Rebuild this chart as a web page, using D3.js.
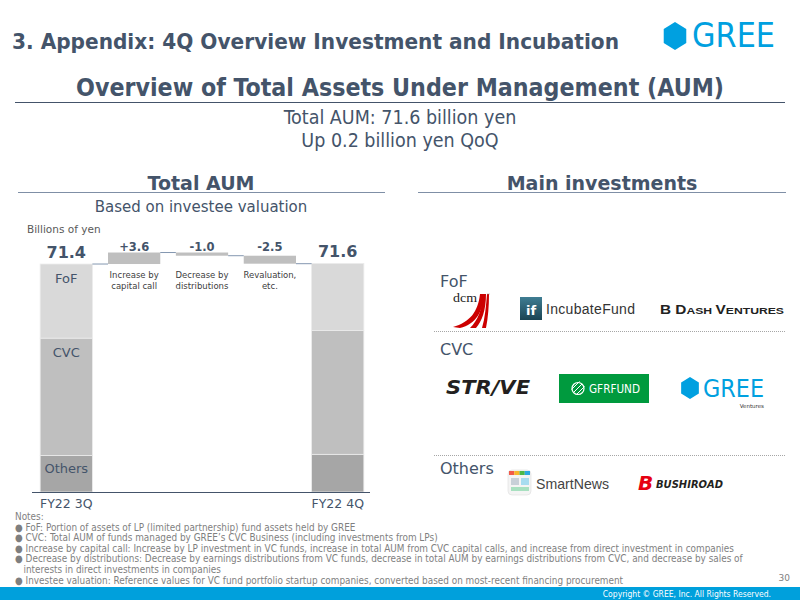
<!DOCTYPE html>
<html>
<head>
<meta charset="utf-8">
<script src="https://cdn.jsdelivr.net/npm/d3@7"></script>
<style>
  body { margin: 0; background: #fff; }
  text { font-family: "DejaVu Sans", Verdana, sans-serif; }
</style>
</head>
<body>
<svg id="chart" width="800" height="600"></svg>
<script>
// chart data
const categories = ["FY22 3Q", "chg1", "chg2", "chg3", "FY22 4Q"]
const segmentNames = ["Others", "CVC", "FoF"]
const q3Values = [11.4, 36.8, 23.2]
const q4Values = [11.8, 38.8, 21.0]
const totals = [71.4, 71.6]
const changes = [3.6, -1.0, -2.5]
const changeLabels = ["+3.6", "-1.0", "-2.5"]
const changeTexts = [["Increase by", "capital call"], ["Decrease by", "distributions"], ["Revaluation,", "etc."]]
const notes = [
  "Notes:",
  "\u25CF FoF: Portion of assets of LP (limited partnership) fund assets held by GREE",
  "\u25CF CVC: Total AUM of funds managed by GREE\u2019s CVC Business (including investments from LPs)",
  "\u25CF Increase by capital call: Increase by LP investment in VC funds, increase in total AUM from CVC capital calls, and increase from direct investment in companies",
  "\u25CF Decrease by distributions: Decrease by earnings distributions from VC funds, decrease in total AUM by earnings distributions from CVC, and decrease by sales of",
  "   interests in direct investments in companies",
  "\u25CF Investee valuation: Reference values for VC fund portfolio startup companies, converted based on most-recent financing procurement"
]

const ink = "#44546a"
const segColors = { FoF: "#d9d9d9", CVC: "#bfbfbf", Others: "#a6a6a6" }

const svg = d3.select("#chart")

// ---- header ----
svg.append("text").attr("x", 12).attr("y", 49)
  .style("font-family", "DejaVu Sans Condensed").style("font-weight", "bold")
  .style("font-size", "21px").attr("fill", ink)
  .attr("textLength", 607).attr("lengthAdjust", "spacingAndGlyphs")
  .text("3. Appendix: 4Q Overview Investment and Incubation")

// GREE logo
const hex = (cx, cy, r) => d3.range(6).map(i => {
  const a = Math.PI / 3 * i - Math.PI / 2
  return [cx + r * Math.cos(a) * 0.93, cy + r * Math.sin(a)]
})
svg.append("polygon").attr("points", hex(675, 36, 14).join(" ")).attr("fill", "#00a0e0")
svg.append("text").attr("x", 692).attr("y", 47)
  .style("font-family", "DejaVu Sans").style("font-size", "33px").attr("fill", "#00a0e0")
  .attr("textLength", 83).attr("lengthAdjust", "spacingAndGlyphs").text("GREE")

svg.append("text").attr("x", 400).attr("y", 96).attr("text-anchor", "middle")
  .style("font-family", "DejaVu Sans Condensed").style("font-weight", "bold")
  .style("font-size", "24px").attr("fill", ink)
  .attr("textLength", 648).attr("lengthAdjust", "spacingAndGlyphs")
  .text("Overview of Total Assets Under Management (AUM)")
svg.append("line").attr("x1", 15).attr("x2", 785).attr("y1", 102.5).attr("y2", 102.5)
  .attr("stroke", ink).attr("stroke-width", 1)

svg.append("text").attr("x", 400).attr("y", 124).attr("text-anchor", "middle")
  .style("font-family", "DejaVu Sans Condensed").style("font-size", "19.5px").attr("fill", ink)
  .text("Total AUM: 71.6 billion yen")
svg.append("text").attr("x", 400).attr("y", 147).attr("text-anchor", "middle")
  .style("font-family", "DejaVu Sans Condensed").style("font-size", "19.5px").attr("fill", ink)
  .text("Up 0.2 billion yen QoQ")

// section headers
const sectionHead = (cx, x1, x2, label) => {
  svg.append("text").attr("x", cx).attr("y", 190).attr("text-anchor", "middle")
    .style("font-weight", "bold").style("font-size", "19px").attr("fill", ink).text(label)
  svg.append("line").attr("x1", x1).attr("x2", x2).attr("y1", 192.5).attr("y2", 192.5)
    .attr("stroke", "#7f8fa6").attr("stroke-width", 1)
}
sectionHead(201, 18, 385, "Total AUM")
sectionHead(602, 418, 786, "Main investments")

svg.append("text").attr("x", 201).attr("y", 212).attr("text-anchor", "middle")
  .style("font-size", "15px").attr("fill", ink).text("Based on investee valuation")
svg.append("text").attr("x", 27).attr("y", 233)
  .style("font-size", "10.5px").attr("fill", "#595959").text("Billions of yen")

// ---- waterfall chart ----
const x = d3.scaleBand().domain(categories).range([32, 372]).paddingInner(0.23).paddingOuter(0.12)
const y = d3.scaleLinear().domain([0, 80]).range([492, 492 - 80 * 3.193])

const g = svg.append("g")

const stackBar = (cat, values) => {
  let base = 0
  values.forEach((v, i) => {
    g.append("rect").attr("x", x(cat)).attr("width", x.bandwidth())
      .attr("y", y(base + v)).attr("height", y(base) - y(base + v))
      .attr("fill", segColors[segmentNames[i]]).attr("stroke", "#ececec").attr("stroke-width", 0.8)
    base += v
  })
}
stackBar(categories[0], q3Values)
stackBar(categories[4], q4Values)

// floating bars + connectors
let running = totals[0]
const levels = [running]
changes.forEach((c, i) => {
  const cat = categories[i + 1]
  const lo = Math.min(running, running + c), hi = Math.max(running, running + c)
  g.append("rect").attr("x", x(cat)).attr("width", x.bandwidth())
    .attr("y", y(hi)).attr("height", y(lo) - y(hi)).attr("fill", "#bfbfbf")
  running += c
  levels.push(running)
})
levels.forEach((lv, i) => {
  g.append("line").attr("x1", x(categories[i]) + x.bandwidth()).attr("x2", x(categories[i + 1]))
    .attr("y1", y(lv)).attr("y2", y(lv)).attr("stroke", "#8497b0").attr("stroke-width", 1)
})

// value labels
;[0, 4].forEach((ci, k) => {
  g.append("text").attr("x", x(categories[ci]) + x.bandwidth() / 2).attr("y", y(totals[k]) - 6)
    .attr("text-anchor", "middle").style("font-weight", "bold").style("font-size", "16px")
    .attr("fill", ink).text(totals[k].toFixed(1))
})
changeLabels.forEach((lab, i) => {
  const cx = x(categories[i + 1]) + x.bandwidth() / 2
  g.append("text").attr("x", cx).attr("y", 251).attr("text-anchor", "middle")
    .style("font-weight", "bold").style("font-size", "11.5px").attr("fill", ink).text(lab)
  changeTexts[i].forEach((t, j) => {
    g.append("text").attr("x", cx).attr("y", 278 + j * 11).attr("text-anchor", "middle")
      .style("font-size", "8.5px").attr("fill", "#404040").text(t)
  })
})

// segment labels inside 3Q bar
const segLabelY = { FoF: 283, CVC: 357, Others: 473 }
segmentNames.forEach(s => {
  g.append("text").attr("x", x(categories[0]) + x.bandwidth() / 2).attr("y", segLabelY[s])
    .attr("text-anchor", "middle").style("font-size", "13px").attr("fill", ink).text(s)
})

// x axis
const axis = g.append("g").attr("transform", "translate(0," + y(0) + ")")
  .call(d3.axisBottom(x).tickSize(0).tickFormat(d => d.startsWith("FY") ? d : ""))
axis.select(".domain").attr("stroke", ink).attr("d", "M32,0.5H370")
axis.selectAll("text").style("font-size", "12.5px").attr("fill", ink).attr("dy", "1.05em")
  .style("font-family", "DejaVu Sans")

// ---- main investments ----
const rs = svg.append("g")
const groupLabel = (yy, t) => rs.append("text").attr("x", 440).attr("y", yy)
  .style("font-size", "16px").attr("fill", ink).text(t)
groupLabel(287, "FoF")
groupLabel(355, "CVC")
groupLabel(474, "Others")
;[331.5, 455.5].forEach(yy => rs.append("line").attr("x1", 434).attr("x2", 786)
  .attr("y1", yy).attr("y2", yy).attr("stroke", "#a6a6a6").attr("stroke-dasharray", "1,1"))

// dcm
rs.append("text").attr("x", 453).attr("y", 302).style("font-family", "Liberation Serif")
  .style("font-size", "13px").attr("fill", "#222")
  .attr("textLength", 24).attr("lengthAdjust", "spacingAndGlyphs").text("dcm")
rs.append("path").attr("d", "M453,327 C470,322 478,312 480,294 L484,294 C483,312 476,324 460,328 Z").attr("fill", "#c00")
rs.append("path").attr("d", "M470,328 C478,320 482,310 483,294 L486,294 C486,310 482,321 476,328 Z").attr("fill", "#c00")
rs.append("path").attr("d", "M482,328 C485,318 486,306 487,294 L489,294 C489,306 488,318 486,328 Z").attr("fill", "#c00")
rs.append("line").attr("x1", 487).attr("x2", 490).attr("y1", 294).attr("y2", 294).attr("stroke", "#999").attr("stroke-width", 0.5)

// IncubateFund
const ifGrad = svg.append("defs").append("linearGradient").attr("id", "ifg").attr("x1", 0).attr("y1", 0).attr("x2", 0).attr("y2", 1)
ifGrad.append("stop").attr("offset", "0%").attr("stop-color", "#3f7d93")
ifGrad.append("stop").attr("offset", "100%").attr("stop-color", "#1b4453")
rs.append("rect").attr("x", 520).attr("y", 297).attr("width", 22).attr("height", 23).attr("fill", "url(#ifg)")
rs.append("text").attr("x", 531).attr("y", 315).attr("text-anchor", "middle").style("font-weight", "bold")
  .style("font-size", "13px").attr("fill", "#fff").text("if")
rs.append("text").attr("x", 546).attr("y", 314).style("font-family", "Liberation Sans")
  .style("font-size", "14px").attr("fill", "#333").attr("textLength", 89).text("IncubateFund")

// B DASH VENTURES
const bd = rs.append("text").attr("x", 660).attr("y", 314).style("font-family", "Liberation Sans")
  .style("font-weight", "bold").attr("fill", "#222").attr("textLength", 124).attr("lengthAdjust", "spacingAndGlyphs")
;[["B ", 12], ["D", 12], ["ASH ", 9.5], ["V", 12], ["ENTURES", 9.5]].forEach(([t, s]) =>
  bd.append("tspan").style("font-size", s + "px").text(t))

// STRIVE
rs.append("text").attr("x", 446).attr("y", 394).style("font-family", "DejaVu Sans")
  .style("font-weight", "bold").style("font-style", "italic").style("font-size", "19px")
  .attr("fill", "#231f20").attr("textLength", 84).attr("lengthAdjust", "spacingAndGlyphs").text("STR/VE")

// GFRFUND
rs.append("rect").attr("x", 559).attr("y", 374).attr("width", 90).attr("height", 29).attr("fill", "#009a3e")
rs.append("circle").attr("cx", 578).attr("cy", 388.5).attr("r", 6).attr("fill", "none").attr("stroke", "#fff").attr("stroke-width", 1.2)
;[-2.5, 0, 2.5].forEach(o => rs.append("line").attr("x1", 574 + o).attr("y1", 392 + o).attr("x2", 582 + o).attr("y2", 384 + o)
  .attr("stroke", "#fff").attr("stroke-width", 1))
rs.append("text").attr("x", 589).attr("y", 393).style("font-family", "DejaVu Sans")
  .style("font-size", "11.5px").attr("fill", "#fff").attr("textLength", 51).attr("lengthAdjust", "spacingAndGlyphs").text("GFRFUND")

// GREE Ventures
rs.append("polygon").attr("points", hex(690, 388, 11).join(" ")).attr("fill", "#00a0e0")
rs.append("text").attr("x", 703).attr("y", 397).style("font-family", "DejaVu Sans")
  .style("font-size", "24px").attr("fill", "#00a0e0").attr("textLength", 61).attr("lengthAdjust", "spacingAndGlyphs").text("GREE")
rs.append("text").attr("x", 764).attr("y", 408).attr("text-anchor", "end")
  .style("font-size", "5.5px").attr("fill", "#333").text("Ventures")

// SmartNews
rs.append("rect").attr("x", 508).attr("y", 470).attr("width", 23).attr("height", 25).attr("rx", 4)
  .attr("fill", "#f4f4f4").attr("stroke", "#ddd").attr("stroke-width", 0.6)
;["#f15a4a", "#f7b52c", "#4cb848", "#2aa9e0"].forEach((c, i) => rs.append("rect")
  .attr("x", 509 + i * 5.25).attr("y", 471).attr("width", 5.25).attr("height", 4).attr("fill", c))
rs.append("rect").attr("x", 511).attr("y", 478).attr("width", 8).attr("height", 7).attr("fill", "#c8d0d8")
rs.append("rect").attr("x", 521).attr("y", 478).attr("width", 8).attr("height", 7).attr("fill", "#a8dcf0")
rs.append("rect").attr("x", 511).attr("y", 487).attr("width", 18).attr("height", 4).attr("fill", "#a8e0c0")
rs.append("text").attr("x", 536).attr("y", 489).style("font-family", "Liberation Sans")
  .style("font-size", "15px").attr("fill", "#444").attr("textLength", 73).attr("lengthAdjust", "spacingAndGlyphs").text("SmartNews")

// BUSHIROAD
rs.append("text").attr("x", 638).attr("y", 490).style("font-family", "DejaVu Sans")
  .style("font-weight", "bold").style("font-style", "italic").style("font-size", "20px")
  .attr("fill", "#e60012").text("B")
rs.append("text").attr("x", 656).attr("y", 488).style("font-family", "DejaVu Sans")
  .style("font-weight", "bold").style("font-style", "italic").style("font-size", "10.5px")
  .attr("fill", "#231f20").attr("textLength", 67).attr("lengthAdjust", "spacingAndGlyphs").text("BUSHIROAD")

// ---- notes & footer ----
const nt = svg.append("g")
notes.forEach((t, i) => {
  nt.append("text").attr("x", 15).attr("y", 520 + i * 10.6).attr("xml:space", "preserve")
    .style("font-family", "DejaVu Sans Condensed").style("font-size", "9.9px")
    .attr("fill", "#7f7f7f").text(t)
})
svg.append("text").attr("x", 790).attr("y", 581).attr("text-anchor", "end")
  .style("font-size", "9px").attr("fill", "#7f7f7f").text("30")
svg.append("rect").attr("x", 0).attr("y", 587).attr("width", 800).attr("height", 13).attr("fill", "#00a0dc")
svg.append("text").attr("x", 771).attr("y", 597).attr("text-anchor", "end")
  .style("font-family", "DejaVu Sans Condensed").style("font-size", "8.5px").attr("fill", "#fff")
  .text("Copyright \u00A9 GREE, Inc. All Rights Reserved.")
</script>
</body>
</html>
